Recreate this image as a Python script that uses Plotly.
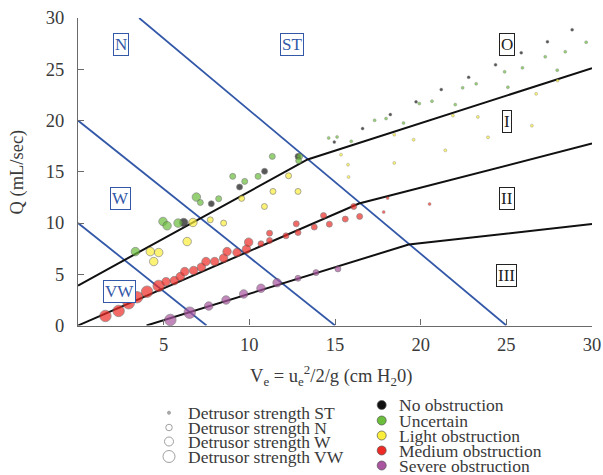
import plotly.graph_objects as go

# ---------------- data ----------------
# Obstruction groups: V (cm H2O), Q (mL/sec), detrusor strength class
black_v = [6.17, 7.78, 9.43, 10.89, 12.84, 14.96, 16.61, 18.23, 19.73, 21.2, 22.8, 24.37, 25.87, 27.4, 28.84]
black_q = [10.05, 11.88, 13.51, 15.04, 16.5, 17.9, 19.21, 20.58, 21.82, 23.02, 24.22, 25.43, 26.61, 27.68, 28.86]
black_s = ["W", "N", "N", "N", "N", "ST", "ST", "ST", "ST", "ST", "ST", "ST", "ST", "ST", "ST"]

green_v = [3.35, 4.96, 5.2, 5.84, 6.91, 7.14, 8.21, 9.03, 9.73, 10.51, 11.34, 12.94, 12.88,
           14.63, 15.12, 15.95, 17.31, 17.98, 19.0, 19.92, 20.66, 22.02, 22.45, 23.24, 24.9, 25.09,
           25.94, 27.27, 27.97, 28.44, 29.66]
green_q = [7.21, 10.15, 9.73, 9.99, 12.53, 12.0, 12.37, 14.55, 14.06, 14.55, 16.5, 16.5, 16.08,
           18.3, 18.4, 17.97, 20.02, 20.19, 19.76, 21.65, 21.88, 21.55, 23.19, 23.58, 24.75, 23.25,
           25.14, 26.22, 24.91, 26.71, 27.64]
green_s = ["W", "W", "W", "W", "W", "N", "N", "N", "N", "N", "N", "N", "N"] + ["ST"] * 18

yellow_v = [4.22, 4.71, 4.42, 6.37, 6.71, 7.72, 8.5, 9.55, 10.88, 11.38, 12.84, 12.29,
            15.35, 15.76, 15.79, 18.46, 18.46, 19.59, 21.44, 21.88, 23.34, 23.93, 26.74, 26.49, 27.99]
yellow_q = [7.21, 7.12, 6.24, 8.19, 10.05, 10.31, 9.99, 12.4, 11.61, 13.08, 13.08, 14.61,
            16.67, 15.69, 14.49, 15.86, 18.62, 18.13, 17.09, 20.48, 20.35, 18.36, 22.6, 19.5, 23.9]
yellow_s = ["W"] * 5 + ["N"] * 7 + ["ST"] * 13

red_v = [1.60, 2.37, 2.96, 3.45, 4.03, 4.71,
         5.14, 5.62, 5.97, 6.23, 6.75, 7.2, 7.47, 7.98, 8.5, 8.7, 9.28, 9.83, 9.96,
         10.68, 11.18, 11.18, 12.14, 12.74, 12.84, 13.79, 14.33, 14.67, 15.6, 16.09, 16.44,
         18.07, 17.84, 20.52]
red_q = [0.93, 1.42, 2.17, 2.76, 3.30, 3.86,
         4.28, 4.38, 4.77, 5.26, 5.36, 5.69, 6.24, 6.24, 6.57, 7.21, 7.12, 7.45, 8.13,
         7.97, 8.29, 9.01, 8.75, 9.92, 9.07, 9.6, 10.73, 9.89, 10.38, 11.61, 10.64,
         12.43, 11.07, 11.85]
red_s = ["VW"] * 6 + ["W"] * 13 + ["N"] * 12 + ["ST"] * 3

purple_v = [5.39, 6.52, 7.63, 8.64, 9.67, 10.68, 11.62, 12.84, 13.89, 15.17]
purple_q = [0.54, 1.25, 1.9, 2.49, 3.08, 3.63, 4.18, 4.61, 5.16, 5.52]
purple_s = ["VW", "VW", "W", "W", "W", "W", "W", "N", "N", "N"]

# Obstruction boundary lines (black)
line_OI_v = [0, 13.4, 30]
line_OI_q = [3.9, 16.2, 25.1]
line_III_v = [0, 16.4, 30]
line_III_q = [0, 11.9, 17.75]
line_IIIII_v = [4.0, 19.3, 30]
line_IIIII_q = [0, 7.9, 9.9]

# Detrusor strength boundary lines (blue)
line_ST_v = [3.57, 25]
line_ST_q = [30, 0]
line_W_v = [0, 15]
line_W_q = [20, 0]
line_VW_v = [0, 7.5]
line_VW_q = [10, 0]

x_ticks = [5, 10, 15, 20, 25, 30]
y_ticks = [0, 5, 10, 15, 20, 25, 30]

strength_names = ["ST", "N", "W", "VW"]
strength_labels = ["Detrusor strength ST", "Detrusor strength N",
                   "Detrusor strength W", "Detrusor strength VW"]
group_labels = ["No obstruction", "Uncertain", "Light obstruction",
                "Medium obstruction", "Severe obstruction"]

# ---------------- style ----------------
SIZE = {"ST": 3, "N": 6, "W": 8.5, "VW": 11.5}
COLORS = ["#111111", "#6bbd3c", "#fbee3a", "#ee2a24", "#a9559f"]
BLUE = "#3358a8"
TXT = "#3a3a3a"
FONT = "Liberation Serif"
AX = "#6a6a6a"

W_PX, H_PX = 603, 475
ML, MR, MT, MB = 78, 11, 18, 0
PLOT_H = H_PX - MT - MB
AXIS_Y_PX = 325.5
DOM_BOTTOM = (H_PX - MB - AXIS_Y_PX) / PLOT_H

fig = go.Figure()

for v, q in [(line_ST_v, line_ST_q), (line_W_v, line_W_q), (line_VW_v, line_VW_q)]:
    fig.add_trace(go.Scatter(x=v, y=q, mode="lines", line=dict(color=BLUE, width=1.8),
                             showlegend=False, hoverinfo="skip", cliponaxis=False))
for v, q in [(line_OI_v, line_OI_q), (line_III_v, line_III_q), (line_IIIII_v, line_IIIII_q)]:
    fig.add_trace(go.Scatter(x=v, y=q, mode="lines", line=dict(color="#111111", width=2),
                             showlegend=False, hoverinfo="skip", cliponaxis=False))

groups = [(black_v, black_q, black_s), (green_v, green_q, green_s),
          (yellow_v, yellow_q, yellow_s), (red_v, red_q, red_s),
          (purple_v, purple_q, purple_s)]
for (v, q, s), col, name in zip(groups, COLORS, group_labels):
    fig.add_trace(go.Scatter(
        x=v, y=q, mode="markers", name=name, showlegend=False, cliponaxis=False,
        marker=dict(color=col, size=[SIZE[k] for k in s],
                    line=dict(color="#555555", width=[0.4 if k == "ST" else 0.7 for k in s]))))

# region labels
for txt, x, y, c in [("N", 2.52, 27.42, BLUE), ("ST", 12.5, 27.42, BLUE), ("W", 2.5, 12.37, BLUE),
                     ("VW", 2.42, 3.27, BLUE), ("O", 25.03, 27.45, "#222222"),
                     ("I", 25.03, 19.92, "#222222"), ("II", 25.03, 12.38, "#222222"),
                     ("III", 25.03, 4.89, "#222222")]:
    fig.add_annotation(x=x, y=y, xref="x", yref="y", text=txt, showarrow=False,
                       font=dict(family=FONT, size=17, color=c),
                       bordercolor=c, borderwidth=1, borderpad=1, bgcolor="white")

# ---------------- manual legend (pixel coordinates on hidden axes) ----------------
leg1_y = [412.7, 427.5, 441.5, 456.5]
fig.add_trace(go.Scatter(
    x=[169] * 4, y=leg1_y, xaxis="x2", yaxis="y2", mode="markers", showlegend=False,
    hoverinfo="skip", cliponaxis=False,
    marker=dict(size=[3, 6.5, 9, 12], color=["#888888", "white", "white", "white"],
                line=dict(color="#777777", width=1))))
for lab, y in zip(strength_labels, leg1_y):
    fig.add_annotation(x=186, y=y, xref="x2", yref="y2", text=lab, showarrow=False,
                       xanchor="left", yanchor="middle",
                       font=dict(family=FONT, size=17.5, color=TXT))

leg2_y = [405, 420.5, 435.5, 450.5, 465.5]
fig.add_trace(go.Scatter(
    x=[381.7] * 5, y=leg2_y, xaxis="x2", yaxis="y2", mode="markers", showlegend=False,
    hoverinfo="skip", cliponaxis=False,
    marker=dict(size=9, color=COLORS, line=dict(color="#555555", width=0.7))))
for lab, y in zip(group_labels, leg2_y):
    fig.add_annotation(x=397, y=y, xref="x2", yref="y2", text=lab, showarrow=False,
                       xanchor="left", yanchor="middle",
                       font=dict(family=FONT, size=17.5, color=TXT))

# axis titles
fig.add_annotation(x=331, y=375, xref="x2", yref="y2",
                   text="V<sub>e</sub> = u<sub>e</sub><sup>2</sup>/2/g (cm H<sub>2</sub>0)",
                   showarrow=False, xanchor="center", yanchor="middle",
                   font=dict(family=FONT, size=18.5, color=TXT))
fig.add_annotation(x=(16.5 - ML) / (W_PX - ML - MR), y=(H_PX - MB - 172) / PLOT_H,
                   xref="paper", yref="paper",
                   text="Q (mL/sec)", textangle=-90, showarrow=False,
                   xanchor="center", yanchor="middle",
                   font=dict(family=FONT, size=18.5, color=TXT))

fig.update_layout(
    width=W_PX, height=H_PX,
    margin=dict(l=ML, r=MR, t=MT, b=MB, autoexpand=False),
    paper_bgcolor="white", plot_bgcolor="white",
    font=dict(family=FONT, size=18.5, color=TXT),
    xaxis=dict(range=[0, 30], tickvals=x_ticks, ticks="inside", ticklen=6, tickwidth=1.2,
               tickcolor=AX, showline=True, linecolor=AX, linewidth=1.3, showgrid=False,
               zeroline=False, anchor="y", ticklabelstandoff=2, automargin=False,
               tickfont=dict(family=FONT, size=18.5, color=TXT)),
    yaxis=dict(range=[0, 30], tickvals=y_ticks, ticks="inside", ticklen=6, tickwidth=1.2,
               tickcolor=AX, showline=True, linecolor=AX, linewidth=1.3, showgrid=False,
               zeroline=False, domain=[DOM_BOTTOM, 1], anchor="x", automargin=False,
               ticklabelstandoff=9, tickfont=dict(family=FONT, size=18.5, color=TXT)),
    xaxis2=dict(range=[ML, W_PX - MR], domain=[0, 1], anchor="y2", visible=False,
                automargin=False),
    yaxis2=dict(range=[H_PX - MB, AXIS_Y_PX], domain=[0, DOM_BOTTOM], anchor="x2",
                visible=False, automargin=False),
)

fig.write_html("out.html")
